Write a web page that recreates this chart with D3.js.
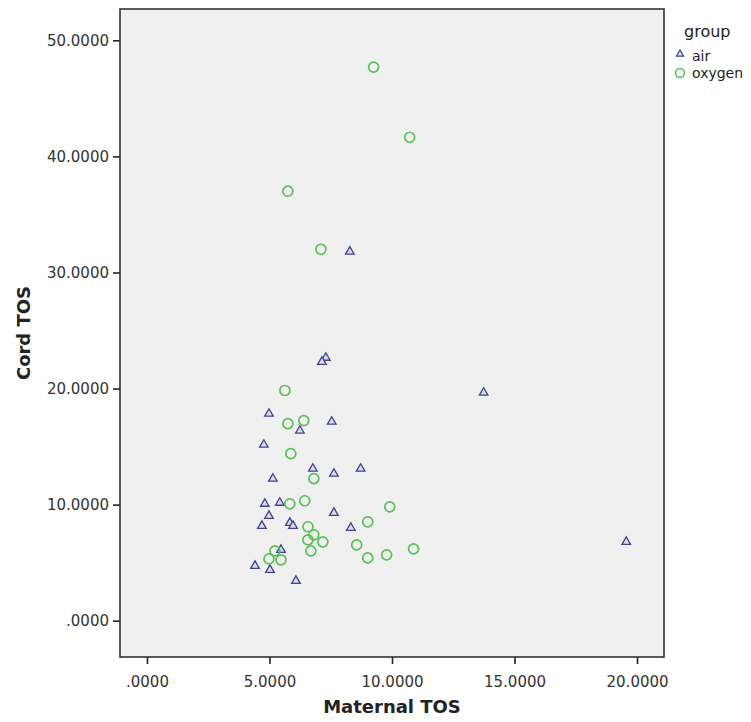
<!DOCTYPE html>
<html lang="en">
<head>
<meta charset="utf-8">
<title>Cord TOS vs Maternal TOS by group</title>
<script src="https://d3js.org/d3.v7.min.js"></script>
<style type="text/css">
  body { margin: 0; background: #fff; }
  text { font-family: "DejaVu Sans", sans-serif; }
</style>
</head>
<body>
<script type="text/javascript">

// air group (triangles): maternal TOS, cord TOS
var airMaternal = [8.28, 7.30, 7.14, 13.74, 4.98, 7.54, 6.24, 4.77, 6.77, 8.72, 7.63, 5.14, 4.81,
                   5.42, 4.98, 7.63, 4.69, 5.83, 5.96, 8.32, 5.47, 4.41, 5.02, 6.08, 19.56];
var airCord     = [31.80, 22.65, 22.30, 19.64, 17.83, 17.14, 16.37, 15.16, 13.09, 13.09, 12.66, 12.23, 10.07,
                   10.16, 9.03, 9.29, 8.17, 8.43, 8.17, 8.00, 6.10, 4.72, 4.38, 3.43, 6.79];

// oxygen group (circles)
var oxyMaternal = [9.25, 10.72, 5.75, 7.10, 5.63, 5.75, 6.40, 5.87, 6.81, 5.83, 6.44, 9.91, 9.01,
                   6.57, 6.81, 6.57, 7.18, 6.69, 8.56, 9.01, 9.78, 10.88, 5.22, 4.98, 5.47];
var oxyCord     = [47.69, 41.65, 37.00, 32.00, 19.83, 16.98, 17.24, 14.39, 12.24, 10.07, 10.33, 9.81, 8.52,
                   8.09, 7.40, 6.96, 6.79, 6.01, 6.53, 5.41, 5.67, 6.19, 6.01, 5.32, 5.24];

var groups = ["air", "oxygen"];
var xTicks = [0, 5, 10, 15, 20];
var yTicks = [0, 10, 20, 30, 40, 50];

var w = 751, h = 722;
// plot frame edges (window.top is reserved, so use own names)
var pLeft = 120, pRight = 664, pTop = 9, pBottom = 657;

var svg = d3.select("body").append("svg")
  .attr("width", w)
  .attr("height", h);

var x = d3.scaleLinear().domain([-1.1, 21.1]).range([pLeft, pRight]);
var y = d3.scaleLinear().domain([-3.13, 52.7]).range([pBottom, pTop]);

// plot background
svg.append("rect")
  .attr("x", pLeft).attr("y", pTop)
  .attr("width", pRight - pLeft).attr("height", pBottom - pTop)
  .attr("fill", "#f0f0f0");

var fmt = function(d) { return d === 0 ? ".0000" : d3.format(".4f")(d); };

// axes
var xAxis = svg.append("g")
  .attr("transform", "translate(0," + pBottom + ")")
  .call(d3.axisBottom(x).tickValues(xTicks).tickFormat(fmt).tickSize(7).tickSizeOuter(0).tickPadding(12));

var yAxis = svg.append("g")
  .attr("transform", "translate(" + pLeft + ",0)")
  .call(d3.axisLeft(y).tickValues(yTicks).tickFormat(fmt).tickSize(7).tickSizeOuter(0).tickPadding(4));

[xAxis, yAxis].forEach(function(g) {
  g.select(".domain").remove();
  g.selectAll(".tick line").attr("stroke", "#222").attr("stroke-width", 1.6);
  g.selectAll(".tick text").attr("fill", "#333").style("font-size", "15px");
});

// frame
svg.append("rect")
  .attr("x", pLeft).attr("y", pTop)
  .attr("width", pRight - pLeft).attr("height", pBottom - pTop)
  .attr("fill", "none")
  .attr("stroke", "#333")
  .attr("stroke-width", 1.6);

// axis titles
svg.append("text")
  .attr("x", (pLeft + pRight) / 2)
  .attr("y", 713)
  .attr("text-anchor", "middle")
  .style("font-size", "18px")
  .style("font-weight", "bold")
  .attr("fill", "#222")
  .text("Maternal TOS");

svg.append("text")
  .attr("transform", "translate(30," + ((pTop + pBottom) / 2) + ") rotate(-90)")
  .attr("text-anchor", "middle")
  .style("font-size", "18px")
  .style("font-weight", "bold")
  .attr("fill", "#222")
  .text("Cord TOS");

var tri = d3.symbol().type(d3.symbolTriangle).size(32);

// air points
svg.append("g").selectAll("path")
  .data(d3.range(airMaternal.length))
  .enter().append("path")
  .attr("d", tri)
  .attr("transform", function(i) { return "translate(" + x(airMaternal[i]) + "," + y(airCord[i]) + ")"; })
  .attr("fill", "#dcdcf0")
  .attr("stroke", "#3f4193")
  .attr("stroke-width", 1.3);

// oxygen points
svg.append("g").selectAll("circle")
  .data(d3.range(oxyMaternal.length))
  .enter().append("circle")
  .attr("cx", function(i) { return x(oxyMaternal[i]); })
  .attr("cy", function(i) { return y(oxyCord[i]); })
  .attr("r", 5)
  .attr("fill", "none")
  .attr("stroke", "#55c255")
  .attr("stroke-width", 1.7);

// legend
var lg = svg.append("g");
lg.append("text")
  .attr("x", 684).attr("y", 37)
  .style("font-size", "16px")
  .attr("fill", "#222")
  .text("group");

lg.append("path")
  .attr("d", d3.symbol().type(d3.symbolTriangle).size(22))
  .attr("transform", "translate(680,54)")
  .attr("fill", "#dcdcf0")
  .attr("stroke", "#3f4193")
  .attr("stroke-width", 1.2);
lg.append("text")
  .attr("x", 692).attr("y", 61)
  .style("font-size", "14px")
  .attr("fill", "#222")
  .text(groups[0]);

lg.append("circle")
  .attr("cx", 680).attr("cy", 73).attr("r", 4.5)
  .attr("fill", "none")
  .attr("stroke", "#55c255")
  .attr("stroke-width", 1.6);
lg.append("text")
  .attr("x", 692).attr("y", 78)
  .style("font-size", "14px")
  .attr("fill", "#222")
  .text(groups[1]);

</script>
</body>
</html>
